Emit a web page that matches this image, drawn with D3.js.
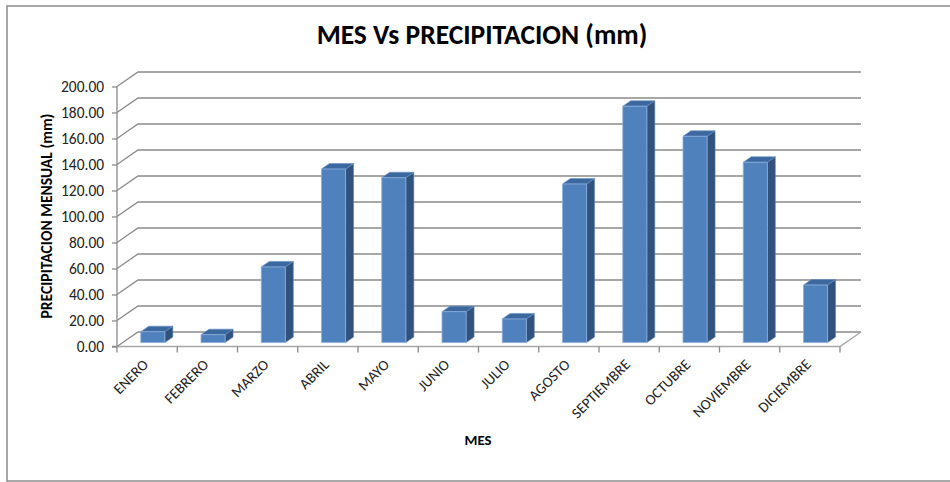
<!DOCTYPE html>
<html><head><meta charset="utf-8">
<script src="https://cdn.jsdelivr.net/npm/d3@7"></script>
<style>html,body{margin:0;padding:0;background:#fff;}</style>
</head><body>
<script>
const months = ["ENERO","FEBRERO","MARZO","ABRIL","MAYO","JUNIO","JULIO","AGOSTO","SEPTIEMBRE","OCTUBRE","NOVIEMBRE","DICIEMBRE"];
const precip = [8.4, 6.1, 58.2, 133.5, 126.8, 23.8, 18.2, 122.0, 181.8, 158.7, 138.7, 44.3];
const yTicks = [0,20,40,60,80,100,120,140,160,180,200];
const title = "MES Vs PRECIPITACION (mm)";
const xTitle = "MES";
const yTitle = "PRECIPITACION MENSUAL (mm)";

const W = 950, H = 482;
const FONT = "Carlito, 'Open Sans', Lato, sans-serif";
const svg = d3.select("body").append("svg").attr("width", W).attr("height", H);

// scale font size of a text so its length matches a target width
function fit(sel, target, base) {
  sel.attr("font-size", base);
  const n = sel.node();
  const w = n.getComputedTextLength();
  if (w > 0) sel.attr("font-size", base * target / w);
}

// chart border
svg.append("rect").attr("x",7).attr("y",6).attr("width",960).attr("height",475)
  .attr("fill","#fff").attr("stroke","#8c8c8c").attr("stroke-width",1.5);

const x = d3.scaleBand().domain(months).range([117, 840]);
const y = d3.scaleLinear().domain([0, 200]).range([346.5, 86.5]);
const DX = 21, DY = 14.5;         // depth offset of back wall
const zF = 0.27, zB = 0.65;       // bar front/back depth fractions
const P = (px, v, z) => [px + z*DX, y(v) - z*DY];

const grid = svg.append("g");
yTicks.forEach(t => {
  const pts = [[x.range()[0], y(t)], P(x.range()[0], t, 1), P(x.range()[1], t, 1)];
  grid.append("path").attr("d", d3.line()(pts)).attr("fill","none")
    .attr("stroke","#8a8a8a").attr("stroke-width",1.3);
});
grid.append("path").attr("d", d3.line()([[x.range()[0], y(0)], [x.range()[1], y(0)], P(x.range()[1], 0, 1)]))
  .attr("fill","none").attr("stroke","#a6a6a6").attr("stroke-width",1.3);

// y axis
const yAxis = d3.axisLeft(y).tickValues(yTicks).tickSize(5).tickPadding(8).tickFormat(d3.format(".2f"));
const gy = svg.append("g").attr("transform", `translate(${x.range()[0]},0)`).call(yAxis);
gy.select(".domain").attr("stroke","#8a8a8a").attr("stroke-width",1.3).attr("d", `M-5,${y(0)}H0V${y(200)}`);
gy.selectAll(".tick line").attr("stroke","#8a8a8a").attr("stroke-width",1.3);
const tickTexts = gy.selectAll(".tick text").attr("font-family",FONT).attr("fill","#222");
// size from widest label
const t200 = tickTexts.filter(d => d === 200);
fit(t200, 43, 14);
tickTexts.attr("font-size", t200.attr("font-size"));

// x axis ticks at band edges
const edges = months.map(m => x(m)).concat([x.range()[1]]);
svg.append("g").selectAll("line").data(edges).join("line")
  .attr("x1", d=>d).attr("x2", d=>d).attr("y1", y(0)).attr("y2", y(0)+6)
  .attr("stroke","#8a8a8a").attr("stroke-width",1.3);

// bars
const bw = x.bandwidth()*0.4;
const bars = svg.append("g").selectAll("g").data(months.map((m,i)=>({m, v: precip[i]}))).join("g");
bars.each(function(d){
  const g = d3.select(this);
  const x0 = x(d.m) + x.bandwidth()/2 - bw/2, x1 = x0 + bw;
  const front = [P(x0,0,zF), P(x1,0,zF), P(x1,d.v,zF), P(x0,d.v,zF)];
  const side = [P(x1,0,zF), P(x1,0,zB), P(x1,d.v,zB), P(x1,d.v,zF)];
  const top = [P(x0,d.v,zF), P(x1,d.v,zF), P(x1,d.v,zB), P(x0,d.v,zB)];
  const poly = pts => d3.line()(pts) + "Z";
  g.append("path").attr("d", poly(side)).attr("fill","#30527c").attr("stroke","#5f86b8").attr("stroke-width",0.6);
  g.append("path").attr("d", poly(top)).attr("fill","#3c68a0").attr("stroke","#6a90c2").attr("stroke-width",0.6);
  g.append("path").attr("d", poly(front)).attr("fill","#4f81bd").attr("stroke","#8fb0dc").attr("stroke-width",0.8);
});

// category labels
const cats = svg.append("g").selectAll("text").data(months).join("text")
  .attr("transform", d => `translate(${x(d)+x.bandwidth()/2+2},${y(0)+19}) rotate(-45)`)
  .attr("text-anchor","end").attr("font-family",FONT).attr("fill","#222")
  .text(d=>d);
const sep = cats.filter(d => d === "SEPTIEMBRE");
fit(sep, 76, 14);
cats.attr("font-size", sep.attr("font-size"));

// titles
const tt = svg.append("text").attr("x",482).attr("y",44).attr("text-anchor","middle")
  .attr("font-family",FONT).attr("font-weight","bold").attr("fill","#000").text(title);
fit(tt, 331, 24);
const xt = svg.append("text").attr("x",478).attr("y",445).attr("text-anchor","middle")
  .attr("font-family",FONT).attr("font-weight","bold").attr("fill","#000").text(xTitle);
fit(xt, 27, 13);
const yt = svg.append("text").attr("transform","translate(52,216) rotate(-90)").attr("text-anchor","middle")
  .attr("font-family",FONT).attr("font-weight","bold").attr("fill","#000").text(yTitle);
fit(yt, 205, 13);
</script>
</body></html>
